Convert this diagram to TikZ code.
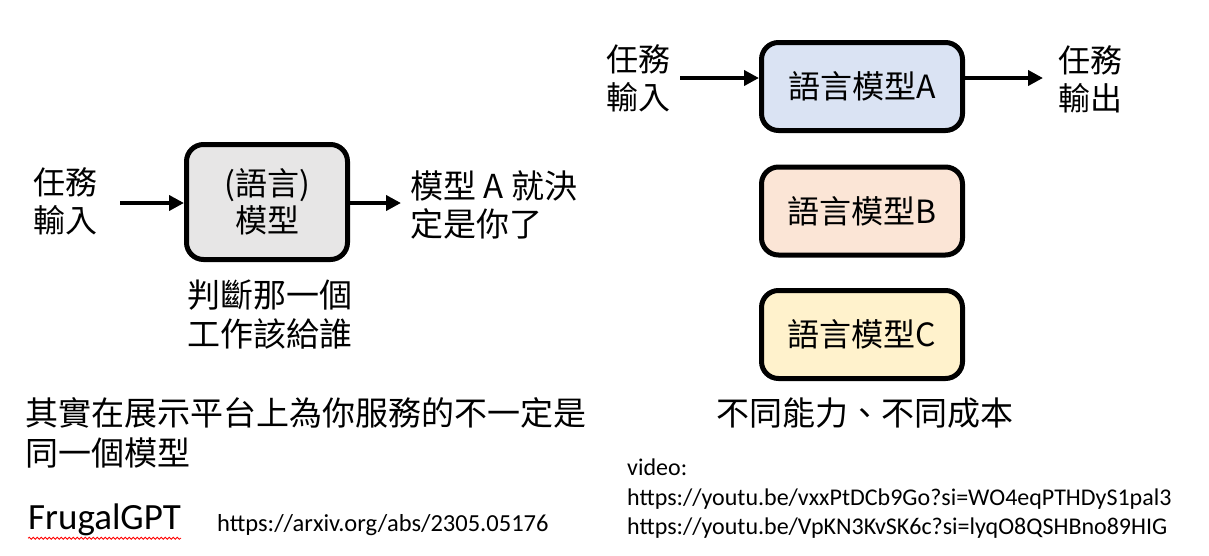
\documentclass[tikz,border=0pt]{standalone}
\usepackage{fontspec}
\newfontfamily\cjk{Noto Sans CJK TC}
\newfontfamily\lat{Carlito}
\usetikzlibrary{arrows.meta,decorations.pathmorphing}
\definecolor{greyfill}{HTML}{E7E6E6}
\definecolor{bluefill}{HTML}{DAE3F3}
\definecolor{orangefill}{HTML}{FBE5D6}
\definecolor{yellowfill}{HTML}{FFF2CC}
\tikzset{
  modelbox/.style={draw=black, line width=5pt, rounded corners=17pt, inner sep=0pt},
  arr/.style={line width=4pt, -{Triangle[length=15pt,width=15pt]}},
  cjktext/.style={font=\cjk\fontsize{32}{38}\selectfont, inner sep=0pt, align=left},
  boxtext/.style={font=\cjk\fontsize{32}{37}\selectfont, align=center},
  urltext/.style={font=\lat\fontsize{24.5}{30}\selectfont, inner sep=0pt, align=left, anchor=west},
}
\begin{document}
\begin{tikzpicture}[x=1pt,y=-1pt]
\useasboundingbox[fill=white] (0,0) rectangle (1209,555);

% ---------- left part ----------
\node[modelbox, fill=greyfill, minimum width=161pt, minimum height=115pt, boxtext] (lm) at (267,202) {(語言)\\模型};
\node[cjktext, anchor=west] (lin) at (33,201) {任務\\輸入};
\coordinate (linend) at (120,203);
\node[cjktext, anchor=west, font=\cjk\fontsize{33}{38}\selectfont] (lout) at (410,205) {模型 A 就決\\定是你了};
\coordinate (loutend) at (401,203);
\draw[arr] (linend) -- (linend -| lm.west);
\draw[arr] (lm.east |- loutend) -- (loutend);
\node[cjktext, anchor=north west, font=\cjk\fontsize{33}{39}\selectfont] (judge) at (187,280) {判斷那一個\\工作該給誰};

\node[cjktext, anchor=west, font=\cjk\fontsize{33}{40}\selectfont] (note) at (25,433) {其實在展示平台上為你服務的不一定是\\同一個模型};

\node[font=\lat\fontsize{37}{40}\selectfont, inner sep=0pt, anchor=west] (frugal) at (28,520) {FrugalGPT};
\draw[red, line width=0.8pt, decorate, decoration={snake, amplitude=1pt, segment length=4pt}]
  ([yshift=-2pt]frugal.south west) -- ([yshift=-2pt]frugal.south east);
\node[urltext] (arxiv) at (217,525) {https://arxiv.org/abs/2305.05176};

% ---------- right part ----------
\node[modelbox, fill=bluefill, minimum width=201pt, minimum height=88pt, boxtext] (ma) at (862,86.5) {語言模型A};
\node[modelbox, fill=orangefill, minimum width=201pt, minimum height=88pt, boxtext] (mb) at (862,211) {語言模型B};
\node[modelbox, fill=yellowfill, minimum width=201pt, minimum height=88pt, boxtext] (mc) at (862,334.5) {語言模型C};

\node[cjktext, anchor=west] (rin) at (606,78) {任務\\輸入};
\coordinate (rinend) at (680,78);
\node[cjktext, anchor=west] (rout) at (1058,79) {任務\\輸出};
\coordinate (routend) at (1043,78);
\draw[arr] (rinend) -- (rinend -| ma.west);
\draw[arr] (ma.east |- routend) -- (routend);

\node[cjktext, anchor=west, font=\cjk\fontsize{33}{40}\selectfont] (ability) at (716,413) {不同能力、不同成本};

\node[urltext, font=\lat\fontsize{24}{29.5}\selectfont] (video) at (627,499) {video:\\https://youtu.be/vxxPtDCb9Go?si=WO4eqPTHDyS1pal3\\https://youtu.be/VpKN3KvSK6c?si=lyqO8QSHBno89HIG};
\end{tikzpicture}
\end{document}
